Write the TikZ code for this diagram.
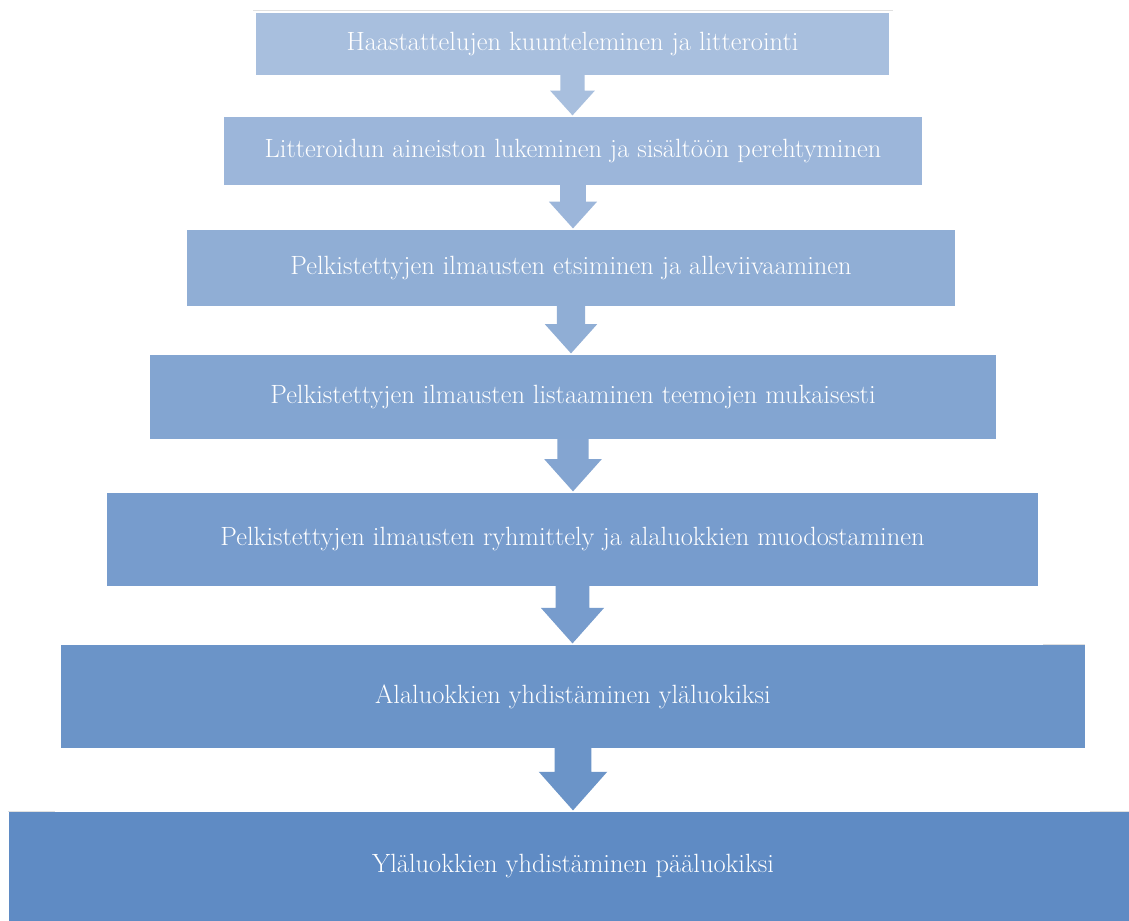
\documentclass[tikz,border=0pt]{standalone}
\usetikzlibrary{calc}
\definecolor{topc}{RGB}{168,191,222}
\definecolor{botc}{RGB}{95,139,196}
\colorlet{c1}{topc}
\colorlet{c2}{topc!83!botc}
\colorlet{c3}{topc!67!botc}
\colorlet{c4}{topc!50!botc}
\colorlet{c5}{topc!33!botc}
\colorlet{c6}{topc!17!botc}
\colorlet{c7}{botc}
\colorlet{edgeline}{black!12}
\tikzset{
  stage/.style={draw=none, text=white, inner sep=0pt,
    font=\fontsize{19.8}{23}\selectfont},
  faint/.style={draw=edgeline, line width=0.75pt},
}
\begin{document}
\begin{tikzpicture}[x=0.75pt,y=-0.75pt]
\useasboundingbox (0,0) rectangle (1129,921);
\clip (0,0) rectangle (1129,921);
\fill[white] (0,0) rectangle (1129,921);

% faint edges above the boxes
\draw[faint] (253,10) -- (893,10);
\draw[faint] (1043,644) -- (1085,644);
\draw[faint] (8,811) -- (55,811);
\draw[faint] (1090,811) -- (1129,811);

% process stages
\node[stage, fill=c1, minimum width=633*0.75pt, minimum height=62*0.75pt] (s1) at (572.5,44)
  {Haastattelujen kuunteleminen ja litterointi};
\node[stage, fill=c2, minimum width=698*0.75pt, minimum height=68*0.75pt] (s2) at (573,151)
  {Litteroidun aineiston lukeminen ja sisältöön perehtyminen};
\node[stage, fill=c3, minimum width=768*0.75pt, minimum height=76*0.75pt] (s3) at (571,268)
  {Pelkistettyjen ilmausten etsiminen ja alleviivaaminen};
\node[stage, fill=c4, minimum width=846*0.75pt, minimum height=84*0.75pt] (s4) at (573,397)
  {Pelkistettyjen ilmausten listaaminen teemojen mukaisesti};
\node[stage, fill=c5, minimum width=931*0.75pt, minimum height=93*0.75pt] (s5) at (572.5,539.5)
  {Pelkistettyjen ilmausten ryhmittely ja alaluokkien muodostaminen};
\node[stage, fill=c6, minimum width=1024*0.75pt, minimum height=103*0.75pt] (s6) at (573,696.5)
  {Alaluokkien yhdistäminen yläluokiksi};
\node[stage, fill=c7, minimum width=1128*0.75pt, minimum height=109*0.75pt] (s7) at (573,866.5)
  {Yläluokkien yhdistäminen pääluokiksi};

% block arrows between consecutive stages
\foreach \a/\b/\c in {s1/s2/c1, s2/s3/c2, s3/s4/c3, s4/s5/c4, s5/s6/c5, s6/s7/c6} {
  \fill[\c] let \p1=(\a.south), \p2=(\b.north), \n1={\y1-\y2} in
    ({\x1-0.29*\n1},{\y1+0.5pt}) -- ({\x1-0.29*\n1},{\y1-0.37*\n1})
    -- ({\x1-0.54*\n1},{\y1-0.37*\n1}) -- ({\x1},{\y2+1pt})
    -- ({\x1+0.54*\n1},{\y1-0.37*\n1}) -- ({\x1+0.29*\n1},{\y1-0.37*\n1})
    -- ({\x1+0.29*\n1},{\y1+0.5pt}) -- cycle;
}
\end{tikzpicture}
\end{document}
